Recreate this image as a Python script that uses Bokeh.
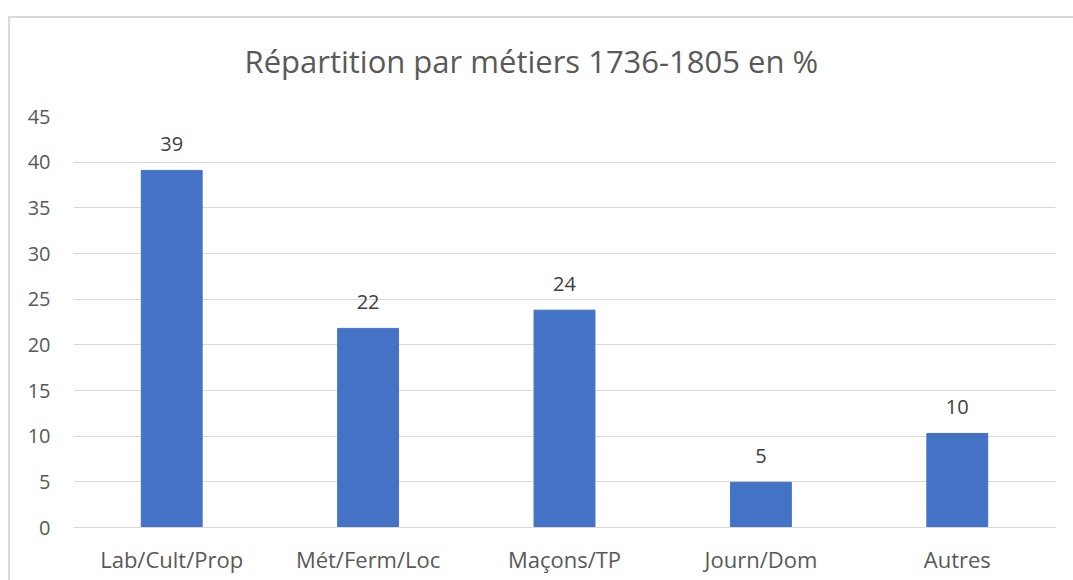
from bokeh.plotting import figure
from bokeh.models import ColumnDataSource, LabelSet, FactorRange, Range1d, SingleIntervalTicker
from bokeh.core.properties import value
from bokeh.embed import file_html
from bokeh.resources import INLINE

categories = ["Lab/Cult/Prop", "Mét/Ferm/Loc", "Maçons/TP", "Journ/Dom", "Autres"]
values = [39.1, 21.8, 23.8, 4.95, 10.3]
labels = ["39", "22", "24", "5", "10"]
title_text = "Répartition par métiers 1736-1805 en %"

FONT = "Open Sans"
GREY = "#595959"

src = ColumnDataSource(dict(cat=categories, val=values, lab=labels))

p = figure(
    x_range=FactorRange(*categories),
    y_range=Range1d(0, 45),
    width=1073, height=580,
    output_backend="svg", toolbar_location=None,
    min_border_left=73, min_border_right=18,
    min_border_top=116, min_border_bottom=53,
)
# light grey chart-area border on the left and top (drawn behind a transparent border fill)
p.styles = {"box-shadow": "inset 8px 16px 0 0 #ffffff, inset 10px 18px 0 0 #d9d9d9",
            "background-color": "#ffffff"}

p.title.text = title_text
p.title.align = "left"
p.title.offset = 171
p.title.text_font = FONT
p.title.text_font_size = "31px"
p.title.text_font_style = "normal"
p.title.text_color = GREY
p.title.standoff = 69

p.outline_line_color = None
p.background_fill_color = "white"
p.border_fill_color = None

p.vbar(x="cat", top="val", width=0.31, source=src,
       fill_color="#4472C4", line_color="#4472C4")

p.add_layout(LabelSet(x="cat", y="val", text="lab", source=src,
                      text_align="center", text_baseline="alphabetic",
                      y_offset=19, text_font=value(FONT),
                      text_font_size="20px", text_color="#404040"))

p.yaxis.ticker = SingleIntervalTicker(interval=5)
p.yaxis.axis_line_color = None
p.yaxis.major_tick_line_color = None
p.yaxis.minor_tick_line_color = None
p.yaxis.major_label_text_font = FONT
p.yaxis.major_label_text_font_size = "20px"
p.yaxis.major_label_text_color = GREY
p.yaxis.major_label_standoff = 17

p.xaxis.axis_line_color = "#d9d9d9"
p.xaxis.axis_line_width = 1
p.xaxis.major_tick_line_color = None
p.xaxis.minor_tick_line_color = None
p.xaxis.major_tick_out = 0
p.xaxis.major_tick_in = 0
p.xaxis.major_label_text_font = FONT
p.xaxis.major_label_text_font_size = "22px"
p.xaxis.major_label_text_color = GREY
p.xaxis.major_label_standoff = 16

p.xgrid.grid_line_color = None
p.ygrid.grid_line_color = "#d9d9d9"
p.ygrid.grid_line_width = 1

open("out.html", "w").write(file_html(p, INLINE))
